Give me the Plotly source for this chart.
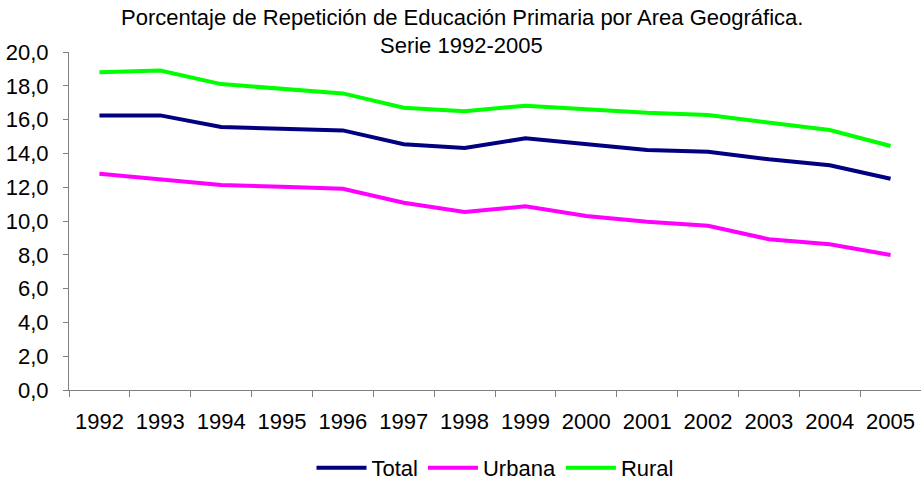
import plotly.graph_objects as go

years = ["1992", "1993", "1994", "1995", "1996", "1997", "1998", "1999",
         "2000", "2001", "2002", "2003", "2004", "2005"]
total = [16.25, 16.25, 15.56, 15.46, 15.36, 14.54, 14.32, 14.89, 14.54, 14.2, 14.1, 13.65, 13.3, 12.5]
urbana = [12.8, 12.47, 12.13, 12.03, 11.91, 11.08, 10.53, 10.87, 10.3, 9.96, 9.72, 8.92, 8.62, 7.99]
rural = [18.8, 18.9, 18.1, 17.85, 17.55, 16.7, 16.5, 16.82, 16.6, 16.4, 16.27, 15.84, 15.38, 14.44]
y_ticks = [0, 2, 4, 6, 8, 10, 12, 14, 16, 18, 20]
title_lines = ["Porcentaje de Repetición de Educación Primaria por Area Geográfica.",
               "Serie 1992-2005"]

font = "Liberation Sans, Arial, sans-serif"

fig = go.Figure()
fig.add_trace(go.Scatter(x=years, y=total, name="Total", mode="lines",
                         line=dict(color="#000080", width=4)))
fig.add_trace(go.Scatter(x=years, y=urbana, name="Urbana", mode="lines",
                         line=dict(color="#FF00FF", width=4)))
fig.add_trace(go.Scatter(x=years, y=rural, name="Rural", mode="lines",
                         line=dict(color="#00FF00", width=4)))

fig.add_annotation(text=title_lines[0], xref="paper", yref="paper",
                   x=(462 - 69) / 852, y=(390 - 17) / 338, xanchor="center", yanchor="middle",
                   showarrow=False, font=dict(family=font, size=22, color="black"))
fig.add_annotation(text=title_lines[1], xref="paper", yref="paper",
                   x=(461 - 69) / 852, y=(390 - 45) / 338, xanchor="center", yanchor="middle",
                   showarrow=False, font=dict(family=font, size=22, color="black"))

fig.update_layout(
    width=921, height=482,
    margin=dict(l=69, r=0, t=52, b=92),
    paper_bgcolor="white", plot_bgcolor="white",
    separators=",.",
    font=dict(family=font, size=22, color="black"),
    showlegend=True,
    legend=dict(orientation="h", x=0.5, xanchor="center", xref="paper",
                y=14 / 482, yanchor="middle", yref="container",
                font=dict(family=font, size=22, color="black"),
                itemwidth=50, tracegroupgap=0),
    xaxis=dict(type="category", range=[-0.5, 13.5], showgrid=False, automargin=False,
               showline=True, linecolor="#808080", linewidth=1,
               ticks="outside", tickson="boundaries", ticklen=6, tickcolor="#808080",
               ticklabelstandoff=12, tickfont=dict(size=22)),
    yaxis=dict(range=[0, 20], tickvals=y_ticks, tickformat=".1f", showgrid=False,
               automargin=False,
               showline=True, linecolor="#808080", linewidth=1, zeroline=False,
               ticks="outside", ticklen=5, tickcolor="#808080",
               ticklabelstandoff=10, tickfont=dict(size=22)),
)

fig.write_html("out.html", config={"displayModeBar": False},
               post_script="document.body.style.margin='0';")
